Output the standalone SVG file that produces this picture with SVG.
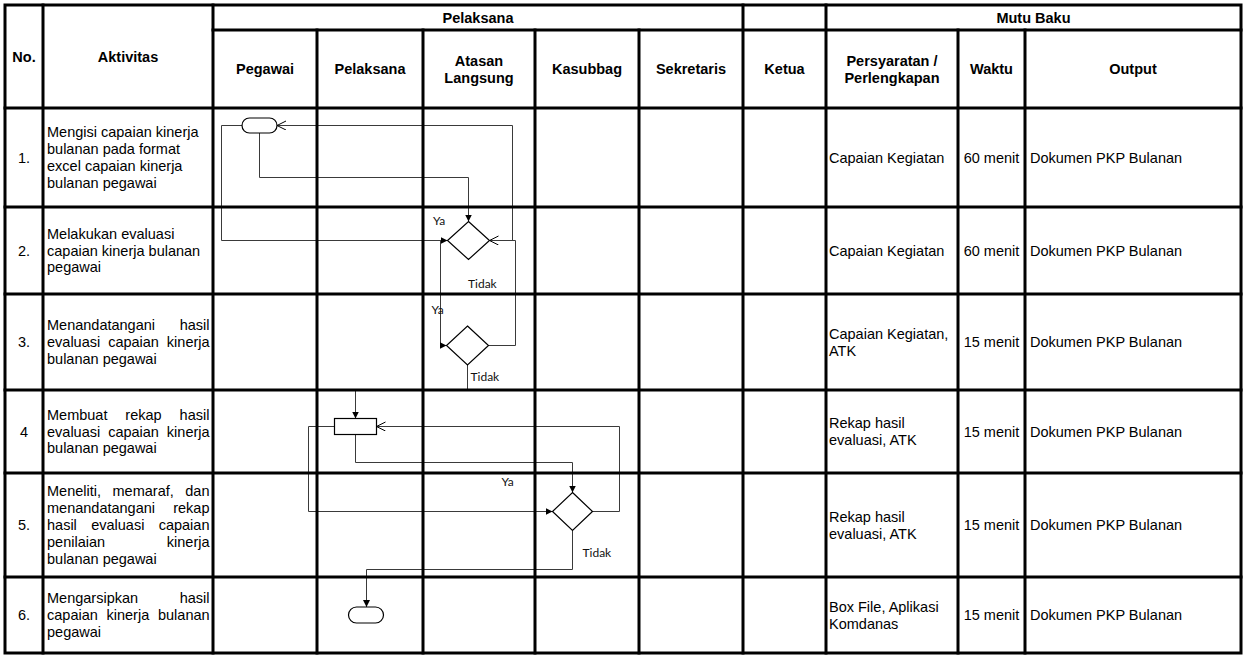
<svg xmlns="http://www.w3.org/2000/svg" width="1244" height="655" viewBox="0 0 1244 655">
<style>
.t{font-family:"Liberation Sans",Arial,sans-serif;font-size:14.5px;fill:#000}
.b{font-weight:bold}
.m{text-anchor:middle}
.e{text-anchor:end}
.lb{font-family:Lato,"Open Sans",sans-serif;font-size:12px;fill:#111}
.g{stroke:#000;stroke-width:3;fill:none;stroke-linecap:square}
.c{stroke:#3a3a3a;stroke-width:1;fill:none}
.s{stroke:#000;stroke-width:1.2;fill:#fff}
</style>
<defs>
<marker id="fa" markerUnits="userSpaceOnUse" markerWidth="8" markerHeight="8" refX="7" refY="3.5" orient="auto"><path d="M0,0 L7,3.5 L0,7 z" fill="#000"/></marker>
<marker id="oa" markerUnits="userSpaceOnUse" markerWidth="10" markerHeight="10" refX="9" refY="4.5" orient="auto"><path d="M0,0 L9,4.5 L0,9" fill="none" stroke="#000" stroke-width="1"/></marker>
</defs>
<rect width="1244" height="655" fill="#fff"/>

<g id="connectors">
<path class="c" d="M259.5,133 V177.5 H468.5 V221.5" marker-end="url(#fa)"/>
<path class="c" d="M242,125.5 H221.5 V240.5 H447.5" marker-end="url(#fa)"/>
<path class="c" d="M440.5,240.5 V345.5 H446.5" marker-end="url(#fa)"/>
<path class="c" d="M489.5,240.5 H512.5 V125.5 H277" marker-end="url(#oa)"/>
<path class="c" d="M488.5,345.5 H515.5 V240.5 H489.5" marker-end="url(#oa)"/>
<path class="c" d="M467.5,365 V390"/>
<path class="c" d="M355.5,390 V418.5" marker-end="url(#fa)"/>
<path class="c" d="M355.5,434.5 V462.5 H572.5 V492.5" marker-end="url(#fa)"/>
<path class="c" d="M334.5,426.5 H308.5 V511.5 H552.5" marker-end="url(#fa)"/>
<path class="c" d="M592.5,511.5 H619.5 V426.5 H376.5" marker-end="url(#oa)"/>
<path class="c" d="M572.5,530.5 V569.5 H366.5 V607" marker-end="url(#fa)"/>
</g>

<g id="grid">
<rect class="g" x="5" y="5" width="1236" height="648"/>
<path class="g" d="M213,30 H1241 M5,108 H1241 M5,207 H1241 M5,294 H1241 M5,390 H1241 M5,473 H1241 M5,577 H1241"/>
<path class="g" d="M43,5 V653 M213,5 V653 M743,5 V653 M826,5 V653 M317,30 V653 M423,30 V653 M535,30 V653 M639,30 V653 M958,30 V653 M1025,30 V653"/>
</g>

<g id="header">
<text class="t b m" x="24" y="62">No.</text>
<text class="t b m" x="128" y="62">Aktivitas</text>
<text class="t b m" x="478" y="22.5">Pelaksana</text>
<text class="t b m" x="1033.5" y="22.5">Mutu Baku</text>
<text class="t b m" x="265" y="74">Pegawai</text>
<text class="t b m" x="370" y="74">Pelaksana</text>
<text class="t b m" x="479" y="65.6">Atasan</text>
<text class="t b m" x="479" y="82.5">Langsung</text>
<text class="t b m" x="587" y="74">Kasubbag</text>
<text class="t b m" x="691" y="74">Sekretaris</text>
<text class="t b m" x="784.5" y="74">Ketua</text>
<text class="t b m" x="892" y="65.6">Persyaratan /</text>
<text class="t b m" x="892" y="82.5">Perlengkapan</text>
<text class="t b m" x="991.5" y="74">Waktu</text>
<text class="t b m" x="1133" y="74">Output</text>
</g>

<g id="row1">
<text class="t m" x="24" y="162.5">1.</text>
<text class="t" x="47" y="137.2">Mengisi capaian kinerja</text>
<text class="t" x="47" y="154.1">bulanan pada format</text>
<text class="t" x="47" y="171">excel capaian kinerja</text>
<text class="t" x="47" y="187.9">bulanan pegawai</text>
<text class="t" x="829" y="162.5">Capaian Kegiatan</text>
<text class="t m" x="991.5" y="162.5">60 menit</text>
<text class="t" x="1030" y="162.5">Dokumen PKP Bulanan</text>
</g>

<g id="row2">
<text class="t m" x="24" y="255.5">2.</text>
<text class="t" x="47" y="238.6">Melakukan evaluasi</text>
<text class="t" x="47" y="255.5">capaian kinerja bulanan</text>
<text class="t" x="47" y="272.4">pegawai</text>
<text class="t" x="829" y="255.5">Capaian Kegiatan</text>
<text class="t m" x="991.5" y="255.5">60 menit</text>
<text class="t" x="1030" y="255.5">Dokumen PKP Bulanan</text>
</g>

<g id="row3">
<text class="t m" x="24" y="347">3.</text>
<text class="t" x="47" y="330.1">Menandatangani</text>
<text class="t e" x="209.5" y="330.1">hasil</text>
<text class="t" x="47" y="347" word-spacing="3.9">evaluasi capaian kinerja</text>
<text class="t" x="47" y="363.9">bulanan pegawai</text>
<text class="t" x="829" y="338.6">Capaian Kegiatan,</text>
<text class="t" x="829" y="355.5">ATK</text>
<text class="t m" x="991.5" y="347">15 menit</text>
<text class="t" x="1030" y="347">Dokumen PKP Bulanan</text>
</g>

<g id="row4">
<text class="t m" x="24" y="436.5">4</text>
<text class="t" x="47" y="419.6" word-spacing="13.9">Membuat rekap hasil</text>
<text class="t" x="47" y="436.5" word-spacing="3.9">evaluasi capaian kinerja</text>
<text class="t" x="47" y="453.4">bulanan pegawai</text>
<text class="t" x="829" y="428.1">Rekap hasil</text>
<text class="t" x="829" y="445">evaluasi, ATK</text>
<text class="t m" x="991.5" y="436.5">15 menit</text>
<text class="t" x="1030" y="436.5">Dokumen PKP Bulanan</text>
</g>

<g id="row5">
<text class="t m" x="24" y="530">5.</text>
<text class="t" x="47" y="496.2" word-spacing="7.5">Meneliti, memaraf, dan</text>
<text class="t" x="47" y="513.1">menandatangani</text>
<text class="t e" x="209.5" y="513.1">rekap</text>
<text class="t" x="47" y="530" word-spacing="10.3">hasil evaluasi capaian</text>
<text class="t" x="47" y="546.9">penilaian</text>
<text class="t e" x="209.5" y="546.9">kinerja</text>
<text class="t" x="47" y="563.8">bulanan pegawai</text>
<text class="t" x="829" y="521.6">Rekap hasil</text>
<text class="t" x="829" y="538.5">evaluasi, ATK</text>
<text class="t m" x="991.5" y="530">15 menit</text>
<text class="t" x="1030" y="530">Dokumen PKP Bulanan</text>
</g>

<g id="row6">
<text class="t m" x="24" y="620">6.</text>
<text class="t" x="47" y="603.1">Mengarsipkan</text>
<text class="t e" x="209.5" y="603.1">hasil</text>
<text class="t" x="47" y="620" word-spacing="4.7">capaian kinerja bulanan</text>
<text class="t" x="47" y="636.9">pegawai</text>
<text class="t" x="829" y="611.6">Box File, Aplikasi</text>
<text class="t" x="829" y="628.5">Komdanas</text>
<text class="t m" x="991.5" y="620">15 menit</text>
<text class="t" x="1030" y="620">Dokumen PKP Bulanan</text>
</g>

<g id="start1"><rect class="s" x="242" y="118" width="35" height="15" rx="7.5"/></g>
<g id="decision2">
<polygon class="s" points="468.5,221.5 489.5,240.5 468.5,259.5 447.5,240.5"/>
<text class="lb" x="433" y="225">Ya</text>
<text class="lb" x="468" y="288">Tidak</text>
</g>
<g id="decision3">
<polygon class="s" points="467.5,326 488.5,345.5 467.5,365 446.5,345.5"/>
<text class="lb" x="431.5" y="314">Ya</text>
<text class="lb" x="470.5" y="381">Tidak</text>
</g>
<g id="process4"><rect class="s" x="334.5" y="418.5" width="42" height="16"/></g>
<g id="decision5">
<polygon class="s" points="572.5,492.5 592.5,511.5 572.5,530.5 552.5,511.5"/>
<text class="lb" x="501.5" y="486">Ya</text>
<text class="lb" x="582.5" y="557">Tidak</text>
</g>
<g id="end6"><rect class="s" x="348.5" y="607" width="35" height="16" rx="8"/></g>
</svg>
